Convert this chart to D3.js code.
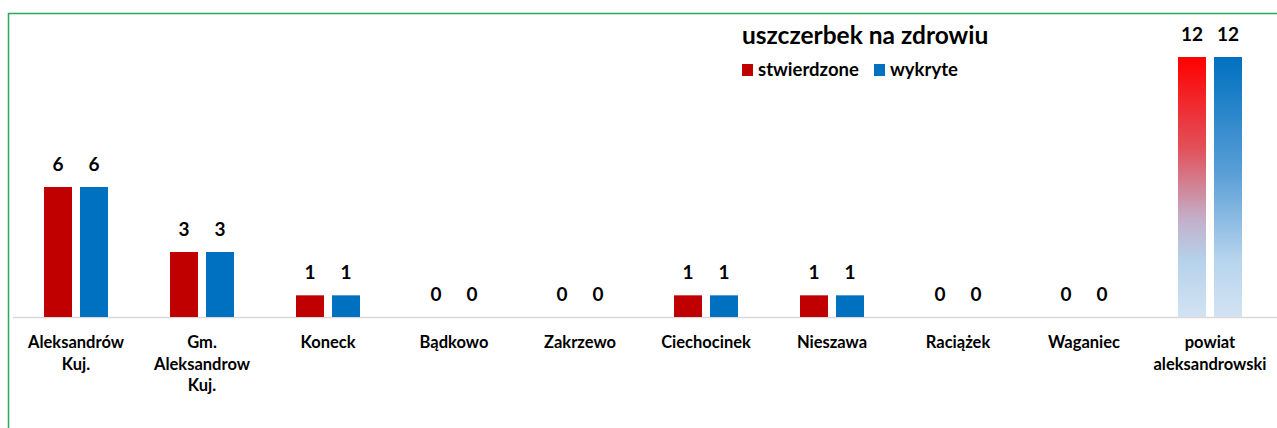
<!DOCTYPE html>
<html>
<head>
<meta charset="utf-8">
<script src="https://cdn.jsdelivr.net/npm/d3@7"></script>
<style>
  body { margin: 0; background: #fff; }
  svg { display: block; font-family: Lato, "Open Sans", sans-serif; }
</style>
</head>
<body>
<div id="chart"></div>
<script>
const categories = ['Aleksandrów\nKuj.', 'Gm.\nAleksandrow\nKuj.', 'Koneck', 'Bądkowo', 'Zakrzewo',
    'Ciechocinek', 'Nieszawa', 'Raciążek', 'Waganiec', 'powiat\naleksandrowski']
const series = ['stwierdzone', 'wykryte']
const stwierdzone = [6, 3, 1, 0, 0, 1, 1, 0, 0, 12]
const wykryte = [6, 3, 1, 0, 0, 1, 1, 0, 0, 12]
const title = 'uszczerbek na zdrowiu'

const W = 1277, H = 428
const colors = { stwierdzone: '#c00000', wykryte: '#0070c0' }

const svg = d3.select('#chart').append('svg')
    .attr('width', W)
    .attr('height', H)

const defs = svg.append('defs')
const gRed = defs.append('linearGradient').attr('id', 'grad-red')
    .attr('x1', 0).attr('y1', 0).attr('x2', 0).attr('y2', 1)
gRed.append('stop').attr('offset', '0%').attr('stop-color', '#ff0000')
gRed.append('stop').attr('offset', '35%').attr('stop-color', '#e2505a')
gRed.append('stop').attr('offset', '62%').attr('stop-color', '#c4aec8')
gRed.append('stop').attr('offset', '78%').attr('stop-color', '#b5d1ea')
gRed.append('stop').attr('offset', '100%').attr('stop-color', '#d2e3f3')
const gBlue = defs.append('linearGradient').attr('id', 'grad-blue')
    .attr('x1', 0).attr('y1', 0).attr('x2', 0).attr('y2', 1)
gBlue.append('stop').attr('offset', '0%').attr('stop-color', '#0070c0')
gBlue.append('stop').attr('offset', '45%').attr('stop-color', '#5a9fd6')
gBlue.append('stop').attr('offset', '78%').attr('stop-color', '#b7d4ee')
gBlue.append('stop').attr('offset', '100%').attr('stop-color', '#d2e3f3')

// green frame, clipped by the window on right and bottom
svg.append('rect')
    .attr('x', 8.5).attr('y', 13.5)
    .attr('width', W + 20).attr('height', H + 20)
    .attr('fill', 'none')
    .attr('stroke', '#2aa85a')
    .attr('stroke-width', 1.5)

const x = d3.scaleBand().domain(categories).range([13, 1273])
const xs = d3.scaleBand().domain(series).range([31, 95]).paddingInner(8 / 36)
const y = d3.scaleLinear().domain([0, 12]).range([317, 57])

const data = series.map(s => ({ key: s, values: s === 'stwierdzone' ? stwierdzone : wykryte }))

// baseline
svg.append('line')
    .attr('x1', 13).attr('x2', W)
    .attr('y1', y(0) + 0.5).attr('y2', y(0) + 0.5)
    .attr('stroke', '#d9d9d9')
    .attr('stroke-width', 1.5)

const last = categories[categories.length - 1]

data.forEach(s => {
    const g = svg.append('g')
    g.selectAll('rect')
        .data(s.values.map((v, i) => ({ c: categories[i], v })))
        .join('rect')
        .attr('x', d => x(d.c) + xs(s.key))
        .attr('y', d => y(d.v))
        .attr('width', xs.bandwidth())
        .attr('height', d => y(0) - y(d.v))
        .attr('fill', d => d.c === last ? (s.key === 'stwierdzone' ? 'url(#grad-red)' : 'url(#grad-blue)') : colors[s.key])

    g.selectAll('text')
        .data(s.values.map((v, i) => ({ c: categories[i], v })))
        .join('text')
        .attr('x', d => x(d.c) + xs(s.key) + xs.bandwidth() / 2)
        .attr('y', d => y(d.v) - 16)
        .attr('text-anchor', 'middle')
        .attr('font-size', '19px')
        .attr('font-weight', 'bold')
        .attr('fill', '#000')
        .text(d => d.v)
})

// category labels
const labels = svg.append('g')
categories.forEach(c => {
    const t = labels.append('text')
        .attr('x', x(c) + x.bandwidth() / 2)
        .attr('y', 348)
        .attr('text-anchor', 'middle')
        .attr('font-size', '16.5px')
        .attr('font-weight', 'bold')
        .attr('fill', '#000')
    c.split('\n').forEach((line, i) => {
        t.append('tspan')
            .attr('x', x(c) + x.bandwidth() / 2)
            .attr('dy', i === 0 ? 0 : 21.7)
            .text(line)
    })
})

// title and legend
svg.append('text')
    .attr('x', 742).attr('y', 44)
    .attr('font-size', '24.5px')
    .attr('font-weight', 'bold')
    .attr('fill', '#000')
    .text(title)

const legendX = [742, 874]
series.forEach((s, i) => {
    svg.append('rect')
        .attr('x', legendX[i]).attr('y', 64)
        .attr('width', 11).attr('height', 12)
        .attr('fill', colors[s])
    svg.append('text')
        .attr('x', legendX[i] + 16).attr('y', 76)
        .attr('font-size', '18.5px')
        .attr('font-weight', 'bold')
        .attr('fill', '#000')
        .text(s)
})
</script>
</body>
</html>
